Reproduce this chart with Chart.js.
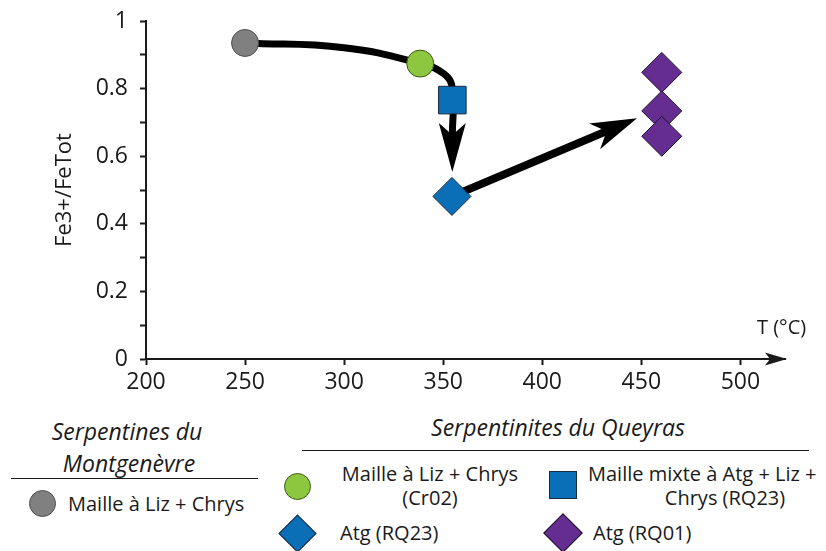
<!DOCTYPE html>
<html><head><meta charset="utf-8">
<script src="https://cdn.jsdelivr.net/npm/chart.js@4"></script>
<style>
html,body{margin:0;padding:0;background:#fff;}
#wrap{position:relative;width:826px;height:551px;overflow:hidden;font-family:"Open Sans",sans-serif;color:#1a1a1a;}
#cbox{position:absolute;left:0;top:0;width:826px;height:400px;}
.t{position:absolute;white-space:nowrap;line-height:1;transform:translateY(-50%);font-size:20px;}
.c{transform:translate(-50%,-50%);}
.h{font-style:italic;font-size:23px;}
.hr{position:absolute;height:0;border-top:1.6px solid #1a1a1a;}
.mk{position:absolute;box-sizing:border-box;border:1px solid #222;}
</style></head>
<body><div id="wrap">
<div id="cbox"><canvas id="cv"></canvas></div>
<div id="legend"></div>
</div>
<script>
// ---- data ----
const X_TICKS = [200, 250, 300, 350, 400, 450, 500];
const Y_TICKS = [0, 0.1, 0.2, 0.3, 0.4, 0.5, 0.6, 0.7, 0.8, 0.9, 1];
const Y_LABELED = [0, 0.2, 0.4, 0.6, 0.8, 1];
const SERIES_NAMES = ['Maille à Liz + Chrys', 'Maille à Liz + Chrys (Cr02)', 'Maille mixte à Atg + Liz + Chrys (RQ23)', 'Atg (RQ23)', 'Atg (RQ01)'];
const GROUP_NAMES = ['Serpentines du Montgenèvre', 'Serpentinites du Queyras'];

const GRAY_T = [250],   GRAY_F = [0.935];
const GREEN_T = [338.4], GREEN_F = [0.874];
const SQUARE_T = [354.6], SQUARE_F = [0.766];
const BLUEDIA_T = [354.4], BLUEDIA_F = [0.481];
const PURPLE_T = [460.3, 460.3, 460.3], PURPLE_F = [0.848, 0.734, 0.659];

// trend paths (shaft ends at arrow notch) and arrow tips
const PATH1_T = [250, 300, 338.4, 350.5, 354.6, 354.6];
const PATH1_F = [0.935, 0.921, 0.874, 0.843, 0.80, 0.659];
const PATH2_T = [354.4, 432.5];
const PATH2_F = [0.481, 0.674];
const TIP_T = [354.6, 447.8];
const TIP_F = [0.553, 0.712];

const COLORS = {gray:'#808080', green:'#8dc63f', blue:'#0b6fb8', purple:'#662d91'};

function pts(xs, ys){ return xs.map((x,i)=>({x:x, y:ys[i]})); }
function fmtY(v){ if (Math.abs(v)<1e-9) return '0'; if (Math.abs(v-1)<1e-9) return '1'; return v.toFixed(1); }

const decor = {
  id:'decor',
  afterDatasetsDraw(chart){
    const ctx = chart.ctx, xs = chart.scales.x, ys = chart.scales.y;
    const paths = [[PATH1_T, PATH1_F],[PATH2_T, PATH2_F]];
    const heads = [{L:49, W:13.5, D:12},{L:46, W:14, D:13}];
    ctx.save();
    ctx.fillStyle = '#000';
    for (let i=0;i<TIP_T.length;i++){
      const tx = xs.getPixelForValue(TIP_T[i]), ty = ys.getPixelForValue(TIP_F[i]);
      const P = paths[i], n = P[0].length;
      const bx = xs.getPixelForValue(P[0][n-1]), by = ys.getPixelForValue(P[1][n-1]);
      let ux = tx-bx, uy = ty-by; const len = Math.hypot(ux,uy); ux/=len; uy/=len;
      const h = heads[i];
      const cx = tx-ux*h.L, cy = ty-uy*h.L;
      const nx = -uy, ny = ux;
      ctx.beginPath();
      ctx.moveTo(tx,ty);
      ctx.lineTo(cx+nx*h.W, cy+ny*h.W);
      ctx.lineTo(tx-ux*(h.L-h.D), ty-uy*(h.L-h.D));
      ctx.lineTo(cx-nx*h.W, cy-ny*h.W);
      ctx.closePath();
      ctx.fill();
    }
    ctx.restore();
  },
  afterDraw(chart){
    const ctx = chart.ctx, a = chart.chartArea;
    ctx.save();
    ctx.fillStyle = '#1a1a1a';
    ctx.beginPath();
    ctx.moveTo(a.right+2, a.bottom);
    ctx.lineTo(a.right-20, a.bottom-6.5);
    ctx.lineTo(a.right-15, a.bottom);
    ctx.lineTo(a.right-20, a.bottom+6.5);
    ctx.closePath();
    ctx.fill();
    ctx.font = '20px "Open Sans"';
    ctx.textAlign = 'left';
    ctx.textBaseline = 'middle';
    ctx.fillText('T (°C)', 757, 328);
    ctx.restore();
  }
};

function build(){
  const ctx = document.getElementById('cv');
  new Chart(ctx, {
    type:'scatter',
    data:{datasets:[
      {label:SERIES_NAMES[0], data:pts(GRAY_T,GRAY_F), pointStyle:'circle', pointRadius:13.5, backgroundColor:COLORS.gray, borderColor:'#4d4d4d', borderWidth:1, order:0},
      {label:SERIES_NAMES[1], data:pts(GREEN_T,GREEN_F), pointStyle:'circle', pointRadius:13.5, backgroundColor:COLORS.green, borderColor:'#3d5a1e', borderWidth:1, order:0},
      {label:SERIES_NAMES[2], data:pts(SQUARE_T,SQUARE_F), pointStyle:'rect', pointRadius:19.5, backgroundColor:COLORS.blue, borderColor:'#1a2a40', borderWidth:1, order:0},
      {label:SERIES_NAMES[3], data:pts(BLUEDIA_T,BLUEDIA_F), pointStyle:'rectRot', pointRadius:19, backgroundColor:COLORS.blue, borderColor:'#1a2a40', borderWidth:1, order:0},
      {label:SERIES_NAMES[4], data:pts(PURPLE_T,PURPLE_F), pointStyle:'rectRot', pointRadius:20, backgroundColor:COLORS.purple, borderColor:'#1d1030', borderWidth:1, order:0},
      {label:'path1', data:pts(PATH1_T,PATH1_F), showLine:true, pointRadius:0, borderColor:'#000', borderWidth:7, tension:0.45, borderCapStyle:'round', borderJoinStyle:'round', fill:false, order:5},
      {label:'path2', data:pts(PATH2_T,PATH2_F), showLine:true, pointRadius:0, borderColor:'#000', borderWidth:8, borderCapStyle:'butt', fill:false, order:5}
    ]},
    options:{
      responsive:true, maintainAspectRatio:false, animation:false, events:[],
      layout:{padding:{left:52, right:41, top:19, bottom:0}},
      plugins:{legend:{display:false}, tooltip:{enabled:false}},
      scales:{
        x:{type:'linear', min:200, max:522.5,
          afterBuildTicks:s=>{ s.ticks = X_TICKS.map(v=>({value:v})); },
          afterFit:s=>{ s.height = 41; },
          grid:{display:true, drawOnChartArea:false, drawTicks:true, tickLength:6, tickWidth:2, color:'#1a1a1a'},
          border:{display:true, color:'#1a1a1a', width:2},
          ticks:{color:'#1a1a1a', font:{family:'Open Sans', size:23}, padding:4, maxRotation:0, autoSkip:false}
        },
        y:{type:'linear', min:0, max:1,
          afterBuildTicks:s=>{ s.ticks = Y_TICKS.map(v=>({value:v})); },
          afterFit:s=>{ s.width = 94; },
          grid:{display:true, drawOnChartArea:false, drawTicks:true, tickLength:6, tickWidth:2, color:'#1a1a1a'},
          border:{display:true, color:'#1a1a1a', width:2},
          ticks:{color:'#1a1a1a', font:{family:'Open Sans', size:23, lineHeight:0.5}, padding:12, autoSkip:false,
            callback:v=> Y_LABELED.some(l=>Math.abs(l-v)<1e-6) ? fmtY(v) : ''},
          title:{display:true, text:'Fe3+/FeTot', color:'#1a1a1a', font:{family:'Open Sans', size:22}, padding:0}
        }
      }
    },
    plugins:[decor]
  });
}

function legend(){
  const L = document.getElementById('legend');
  const g0 = GROUP_NAMES[0].split(' ');
  const items = [
    `<div class="t c h" style="left:127px;top:431px">${g0.slice(0,2).join(' ')}</div>`,
    `<div class="t c h" style="left:129px;top:463px">${g0.slice(2).join(' ')}</div>`,
    `<div class="hr" style="left:11px;top:478px;width:247px"></div>`,
    `<div class="mk" style="left:29px;top:490px;width:27px;height:27px;border-radius:50%;background:${COLORS.gray};border-color:#4d4d4d"></div>`,
    `<div class="t" style="left:68px;top:504px">${SERIES_NAMES[0]}</div>`,
    `<div class="t c h" style="left:558px;top:427px">${GROUP_NAMES[1]}</div>`,
    `<div class="hr" style="left:302px;top:450px;width:507px"></div>`,
    `<div class="mk" style="left:284px;top:473px;width:27px;height:27px;border-radius:50%;background:${COLORS.green};border-color:#3d5a1e"></div>`,
    `<div class="t c" style="left:430px;top:474px">${SERIES_NAMES[0]}</div>`,
    `<div class="t c" style="left:430px;top:498px">${SERIES_NAMES[1].replace(SERIES_NAMES[0]+' ','')}</div>`,
    `<div class="mk" style="left:549px;top:471px;width:28px;height:28px;background:${COLORS.blue};border-color:#1a2a40"></div>`,
    `<div class="t" style="left:588px;top:474px">${SERIES_NAMES[2].replace(' Chrys (RQ23)','')}</div>`,
    `<div class="t c" style="left:725px;top:498px">Chrys (RQ23)</div>`,
    `<div class="mk" style="left:283.5px;top:519.5px;width:27px;height:27px;transform:rotate(45deg);background:${COLORS.blue};border-color:#1a2a40"></div>`,
    `<div class="t" style="left:340px;top:533px">${SERIES_NAMES[3]}</div>`,
    `<div class="mk" style="left:549px;top:519px;width:28px;height:28px;transform:rotate(45deg);background:${COLORS.purple};border-color:#1d1030"></div>`,
    `<div class="t" style="left:593px;top:533px">${SERIES_NAMES[4]}</div>`
  ];
  L.innerHTML = items.join('');
}

legend();
if (document.fonts && document.fonts.load) {
  Promise.all([document.fonts.load('23px "Open Sans"'), document.fonts.load('italic 23px "Open Sans"')]).then(build, build);
} else build();
</script>
</body></html>
